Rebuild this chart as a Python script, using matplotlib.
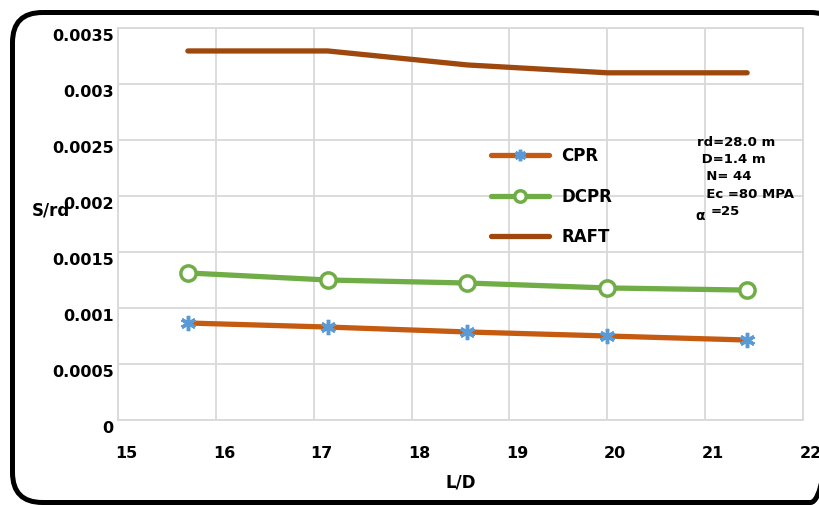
import matplotlib.pyplot as plt
import matplotlib.transforms as mtransforms
from matplotlib.patches import FancyBboxPatch

plt.rcParams['font.family'] = ['DejaVu Sans']
plt.rcParams['font.weight'] = 'bold'

# pile length / diameter
ld = [15.714, 17.143, 18.571, 20.0, 21.429]
cpr = [0.000866, 0.000830, 0.000786, 0.000750, 0.000714]
dcpr = [0.001313, 0.001250, 0.001223, 0.001179, 0.001160]
raft = [0.003295, 0.003295, 0.003170, 0.003100, 0.003100]

xticks = [15, 16, 17, 18, 19, 20, 21, 22]
yticks = [0, 0.0005, 0.001, 0.0015, 0.002, 0.0025, 0.003, 0.0035]
ytick_labels = ['0', '0.0005', '0.001', '0.0015', '0.002', '0.0025', '0.003', '0.0035']

W, H = 819, 505
fig = plt.figure(figsize=(W / 100, H / 100), dpi=100)

# background axes in pixel units, only for the rounded chart border
bg = fig.add_axes([0, 0, 1, 1])
bg.set_xlim(0, W)
bg.set_ylim(H, 0)
bg.axis('off')
bg.add_patch(FancyBboxPatch((12.5, 12.5), 828, 490,
                            boxstyle='round,pad=0,rounding_size=30',
                            fill=False, edgecolor='black', linewidth=3.6,
                            clip_on=False))

ax = fig.add_axes([118 / W, 1 - 420 / H, 685 / W, 392 / H])

ax.plot(ld, cpr, color='#c55a11', linewidth=3.8, marker=(6, 2, 0),
        markersize=11, markeredgecolor='#5b9bd5', markeredgewidth=2.5,
        label='CPR', solid_capstyle='round')
ax.plot(ld, dcpr, color='#70ad47', linewidth=3.8, marker='o', markersize=11,
        markerfacecolor='white', markeredgecolor='#70ad47', markeredgewidth=2.5,
        label='DCPR', solid_capstyle='round')
ax.plot(ld, raft, color='#9e480e', linewidth=3.8, label='RAFT',
        solid_capstyle='round')

ax.set_xlim(15, 22)
ax.set_ylim(0, 0.0035)
ax.set_xticks(xticks)
ax.set_yticks(yticks)
ax.set_yticklabels(ytick_labels)
ax.tick_params(length=0, labelsize=11.5)
ax.tick_params(axis='y', pad=3)
ax.tick_params(axis='x', pad=19)
for lbl in ax.get_xticklabels():
    lbl.set_transform(lbl.get_transform() +
                      mtransforms.ScaledTranslation(8 / 100, 0, fig.dpi_scale_trans))
for lbl in ax.get_yticklabels():
    lbl.set_transform(lbl.get_transform() +
                      mtransforms.ScaledTranslation(0, -7 / 100, fig.dpi_scale_trans))

ax.grid(True, color='#d9d9d9', linewidth=1.3)
for s in ax.spines.values():
    s.set_color('#d9d9d9')
    s.set_linewidth(1.3)
ax.set_axisbelow(True)
ax.patch.set_alpha(0)

ax.set_xlabel('L/D', fontsize=12, fontweight='bold', labelpad=9)
fig.text(51 / W, 1 - 211 / H, 'S/rd', fontsize=12, fontweight='bold',
         ha='center', va='center')

ax.legend(loc='upper left', bbox_to_anchor=(0.535, 0.713), frameon=False,
          handlelength=3.5, labelspacing=1.35, fontsize=12, borderaxespad=0,
          markerscale=0.75, handletextpad=0.7)

ax.text((697 - 118) / 685, (420 - 136) / 392,
        'rd=28.0 m\n D=1.4 m\n  N= 44\n  Ec =80 MPA',
        transform=ax.transAxes, fontsize=9.5, fontweight='bold',
        va='top', ha='left', linespacing=1.42)
ax.text((695 - 118) / 685, (420 - 216) / 392, '\u03b1', transform=ax.transAxes,
        fontsize=10, fontweight='bold', va='center')
ax.text((711 - 118) / 685, (420 - 212) / 392, '=25', transform=ax.transAxes,
        fontsize=9.5, fontweight='bold', va='center')

fig.savefig('out.png', dpi=100)
